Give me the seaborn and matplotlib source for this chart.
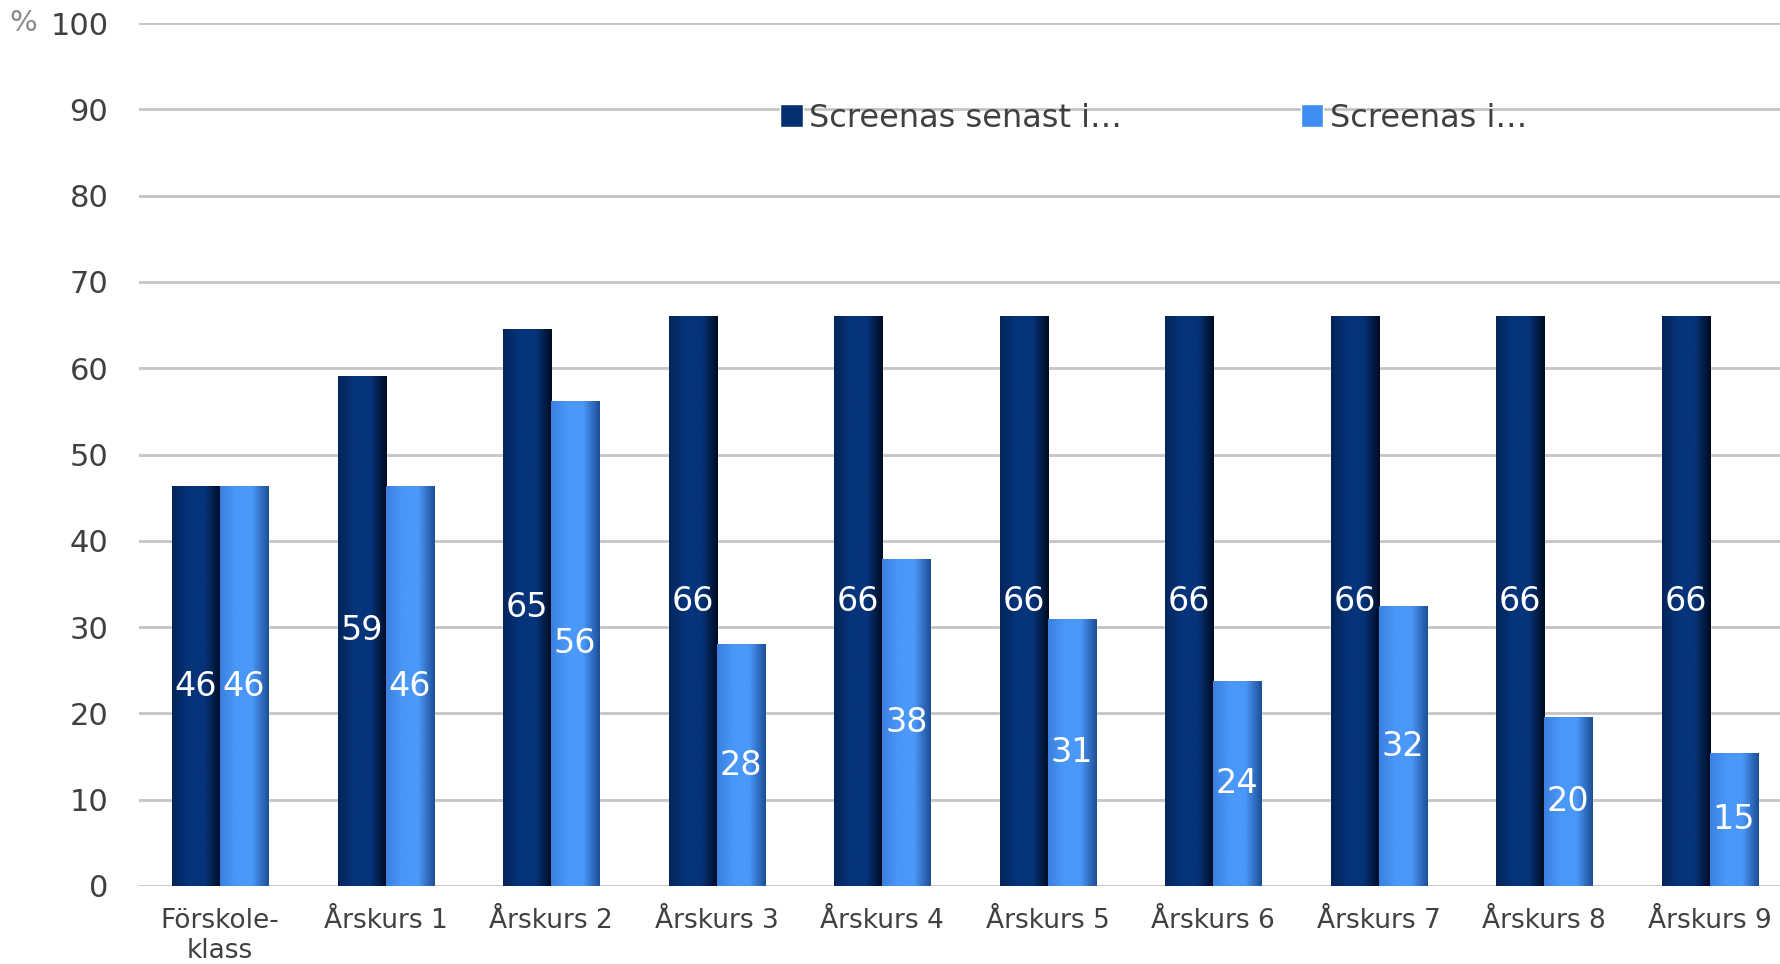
import numpy as np
import pandas as pd
import matplotlib
matplotlib.use("Agg")
import matplotlib.pyplot as plt
import seaborn as sns

categories = ["Förskole-\nklass", "Årskurs 1", "Årskurs 2", "Årskurs 3", "Årskurs 4",
              "Årskurs 5", "Årskurs 6", "Årskurs 7", "Årskurs 8", "Årskurs 9"]
series_names = ["Screenas senast i…", "Screenas i…"]
senast = [46.3, 59.1, 64.6, 66.0, 66.0, 66.0, 66.0, 66.0, 66.0, 66.0]
screenas = [46.3, 46.3, 56.2, 28.0, 37.9, 30.9, 23.8, 32.4, 19.6, 15.4]
yticks = [0, 10, 20, 30, 40, 50, 60, 70, 80, 90, 100]

df = pd.DataFrame({
    "kat": categories * 2,
    "serie": [series_names[0]] * len(categories) + [series_names[1]] * len(categories),
    "varde": senast + screenas,
})

sns.set_theme(style="white")
plt.rcParams["font.family"] = ["DejaVu Sans"]

colors = ["#05306f", "#3f8ef2"]
fig = plt.figure(figsize=(17.81, 9.64), dpi=100)
ax = fig.add_axes([0.078, 0.081, 0.922, 0.895])

sns.barplot(data=df, x="kat", y="varde", hue="serie", palette=colors,
            width=0.58, gap=0, saturation=1, ax=ax, legend=True, zorder=3)

# horizontal shading on the bars
shades = {0: ("#000c24", "#06347a", "#03245a"), 1: ("#1e4f98", "#4a98f8", "#3a80e0")}
for ci, cont in enumerate(ax.containers):
    right_c, mid_c, left_c = shades[ci]
    cmap = matplotlib.colors.LinearSegmentedColormap.from_list(
        "b%d" % ci, [left_c, mid_c, mid_c, right_c])
    grad = np.linspace(0, 1, 64).reshape(1, -1)
    for p in cont:
        x0, w, h = p.get_x(), p.get_width(), p.get_height()
        im = ax.imshow(grad, extent=[x0, x0 + w, 0, h], aspect="auto", cmap=cmap,
                       zorder=3.5, interpolation="bicubic")
        im.set_clip_path(p)
    ax.bar_label(cont, fmt="%.0f", label_type="center", color="white", fontsize=24, zorder=5)

ax.set_xlim(-0.49, 9.43)
ax.set_ylim(0, 100)
ax.set_yticks(yticks)
ax.yaxis.grid(True, color="#c4c4c4", linewidth=2, zorder=0)
ax.set_axisbelow(True)
for s in ax.spines.values():
    s.set_visible(False)
ax.set_xlabel("")
ax.set_ylabel("")
ax.tick_params(axis="y", labelsize=22, labelcolor="#404040", pad=22, length=0)
ax.tick_params(axis="x", labelsize=19, labelcolor="#404040", pad=16, length=0)
fig.text(0.005, 0.976, "%", fontsize=21, color="#8a8a8a", va="center", ha="left")

leg = ax.legend(loc="center", bbox_to_anchor=(0.618, 0.89), ncol=2, frameon=False,
                fontsize=23, handlelength=0.7, handleheight=0.7, handletextpad=0.2,
                columnspacing=5.6, labelcolor="#404040")

fig.savefig("out.png", dpi=100, facecolor="white")
